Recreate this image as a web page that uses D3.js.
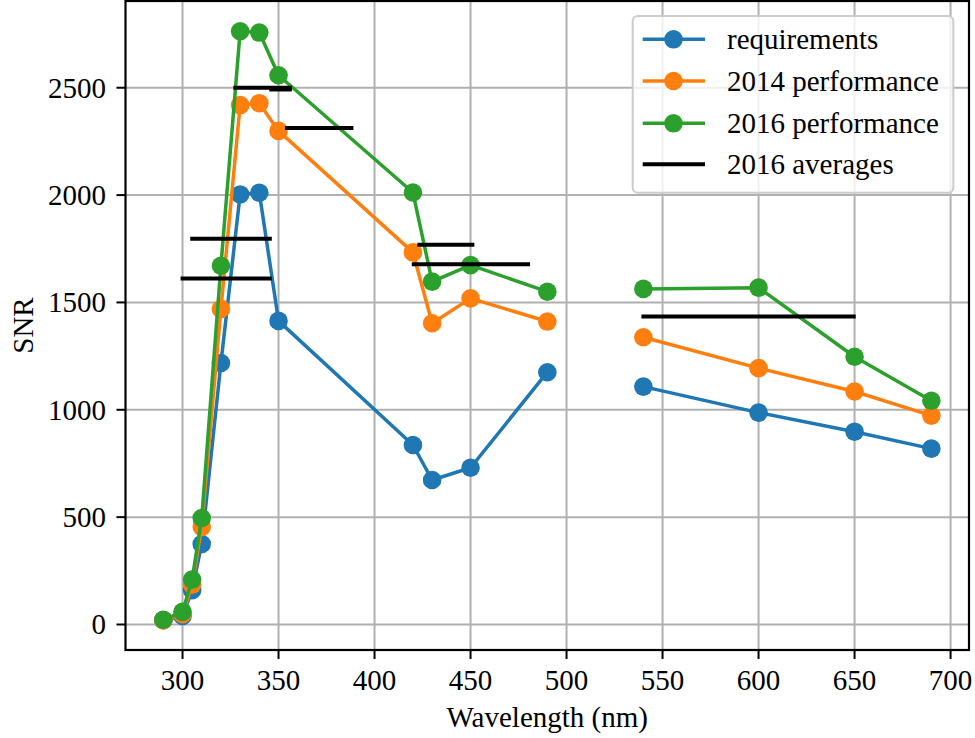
<!DOCTYPE html>
<html>
<head>
<meta charset="utf-8">
<script src="https://cdn.jsdelivr.net/npm/d3@7"></script>
<style>
  html, body { margin: 0; padding: 0; background: #fff; }
  svg text { font-family: "Liberation Serif", "Times New Roman", serif; }
</style>
</head>
<body>
<svg id="chart" width="975" height="738"></svg>
<script>
// Band centre wavelengths (nm): UV/blue channels and visible channels
const wavelengthsUV = [290, 300, 305, 310, 320, 330, 340, 350, 420, 430, 450, 490];
const wavelengthsVis = [540, 600, 650, 690];

// SNR per channel
const requirementsUV = [20, 40, 160, 375, 1218, 2003, 2011, 1414, 836, 673, 730, 1175];
const requirementsVis = [1108, 987, 898, 819];
const perf2014UV = [20, 48, 186, 455, 1470, 2419, 2428, 2299, 1733, 1403, 1519, 1411];
const perf2014Vis = [1338, 1194, 1085, 973];
const perf2016UV = [22, 59, 209, 496, 1671, 2763, 2757, 2558, 2012, 1597, 1674, 1550];
const perf2016Vis = [1563, 1569, 1247, 1042];

// 2016 band averages: [start nm, end nm, mean SNR]
const averageStart = [299, 304, 326.5, 345.2, 353.4, 422.3, 419.4, 539];
const averageEnd   = [346.5, 346.5, 356.9, 356.9, 389, 452, 481, 650.6];
const averageValue = [1611, 1797, 2500, 2492, 2313, 1769, 1678, 1434];

const xTicks = [300, 350, 400, 450, 500, 550, 600, 650, 700];
const yTicks = [0, 500, 1000, 1500, 2000, 2500];

const seriesNames = ["requirements", "2014 performance", "2016 performance", "2016 averages"];
const seriesColors = ["#1f77b4", "#ff7f0e", "#2ca02c", "#000000"];

const svg = d3.select("#chart");
const plotLeft = 125.5, plotRight = 969, plotTop = 1, plotBottom = 650;

const x = d3.scaleLinear().domain([270.3, 709.6]).range([plotLeft, plotRight]);
const y = d3.scaleLinear().domain([-118.8, 2904]).range([plotBottom, plotTop]);

// grid
const grid = svg.append("g");
grid.selectAll("line.gx").data(xTicks).join("line")
  .attr("x1", d => x(d)).attr("x2", d => x(d))
  .attr("y1", plotTop).attr("y2", plotBottom)
  .attr("stroke", "#b0b0b0").attr("stroke-width", 2);
grid.selectAll("line.gy").data(yTicks).join("line")
  .attr("y1", d => y(d)).attr("y2", d => y(d))
  .attr("x1", plotLeft).attr("x2", plotRight)
  .attr("stroke", "#b0b0b0").attr("stroke-width", 2);

// series
const series = [
  [wavelengthsUV.map((w, i) => [w, requirementsUV[i]]), wavelengthsVis.map((w, i) => [w, requirementsVis[i]])],
  [wavelengthsUV.map((w, i) => [w, perf2014UV[i]]), wavelengthsVis.map((w, i) => [w, perf2014Vis[i]])],
  [wavelengthsUV.map((w, i) => [w, perf2016UV[i]]), wavelengthsVis.map((w, i) => [w, perf2016Vis[i]])]
];
const line = d3.line().x(d => x(d[0])).y(d => y(d[1]));

const plot = svg.append("g");
series.forEach((segs, si) => {
  const g = plot.append("g");
  segs.forEach(seg => {
    g.append("path").attr("d", line(seg))
      .attr("fill", "none").attr("stroke", seriesColors[si])
      .attr("stroke-width", 3.5).attr("stroke-linejoin", "round");
  });
  segs.forEach(seg => {
    g.append("g").selectAll("circle").data(seg).join("circle")
      .attr("cx", d => x(d[0])).attr("cy", d => y(d[1]))
      .attr("r", 9.3).attr("fill", seriesColors[si]);
  });
});

// averages
plot.append("g").selectAll("line").data(averageValue).join("line")
  .attr("x1", (d, i) => x(averageStart[i]))
  .attr("x2", (d, i) => x(averageEnd[i]))
  .attr("y1", d => y(d)).attr("y2", d => y(d))
  .attr("stroke", "#000").attr("stroke-width", 4);

// spines
svg.append("rect").attr("x", plotLeft).attr("y", plotTop)
  .attr("width", plotRight - plotLeft).attr("height", plotBottom - plotTop)
  .attr("fill", "none").attr("stroke", "#000").attr("stroke-width", 2.2);

// ticks
const axisX = svg.append("g");
axisX.selectAll("line").data(xTicks).join("line")
  .attr("x1", d => x(d)).attr("x2", d => x(d))
  .attr("y1", plotBottom).attr("y2", plotBottom + 9)
  .attr("stroke", "#000").attr("stroke-width", 2);
axisX.selectAll("text").data(xTicks).join("text")
  .attr("x", d => x(d)).attr("y", 690)
  .attr("text-anchor", "middle").attr("font-size", 29)
  .text(d => d);

const axisY = svg.append("g");
axisY.selectAll("line").data(yTicks).join("line")
  .attr("y1", d => y(d)).attr("y2", d => y(d))
  .attr("x1", plotLeft - 9).attr("x2", plotLeft)
  .attr("stroke", "#000").attr("stroke-width", 2);
axisY.selectAll("text").data(yTicks).join("text")
  .attr("x", 106).attr("y", d => y(d) + 10)
  .attr("text-anchor", "end").attr("font-size", 29)
  .text(d => d);

svg.append("text").attr("x", (plotLeft + plotRight) / 2).attr("y", 727)
  .attr("text-anchor", "middle").attr("font-size", 29)
  .text("Wavelength (nm)");
svg.append("text")
  .attr("transform", `translate(33, ${(plotTop + plotBottom) / 2}) rotate(-90)`)
  .attr("text-anchor", "middle").attr("font-size", 29)
  .text("SNR");

// legend
const lg = svg.append("g");
lg.append("rect").attr("x", 632.7).attr("y", 16).attr("width", 320.6).attr("height", 176.7)
  .attr("rx", 5).attr("fill", "#fff").attr("fill-opacity", 0.8)
  .attr("stroke", "#cccccc").attr("stroke-width", 2);
const rowY = [39.3, 81, 123.3, 164.3];
seriesNames.forEach((name, i) => {
  lg.append("line").attr("x1", 642.7).attr("x2", 705)
    .attr("y1", rowY[i]).attr("y2", rowY[i])
    .attr("stroke", seriesColors[i]).attr("stroke-width", i === 3 ? 4 : 3.5);
  if (i < 3) {
    lg.append("circle").attr("cx", 673.5).attr("cy", rowY[i]).attr("r", 9.3)
      .attr("fill", seriesColors[i]);
  }
  lg.append("text").attr("x", 727).attr("y", rowY[i] + 10)
    .attr("font-size", 29).text(name);
});
</script>
</body>
</html>
